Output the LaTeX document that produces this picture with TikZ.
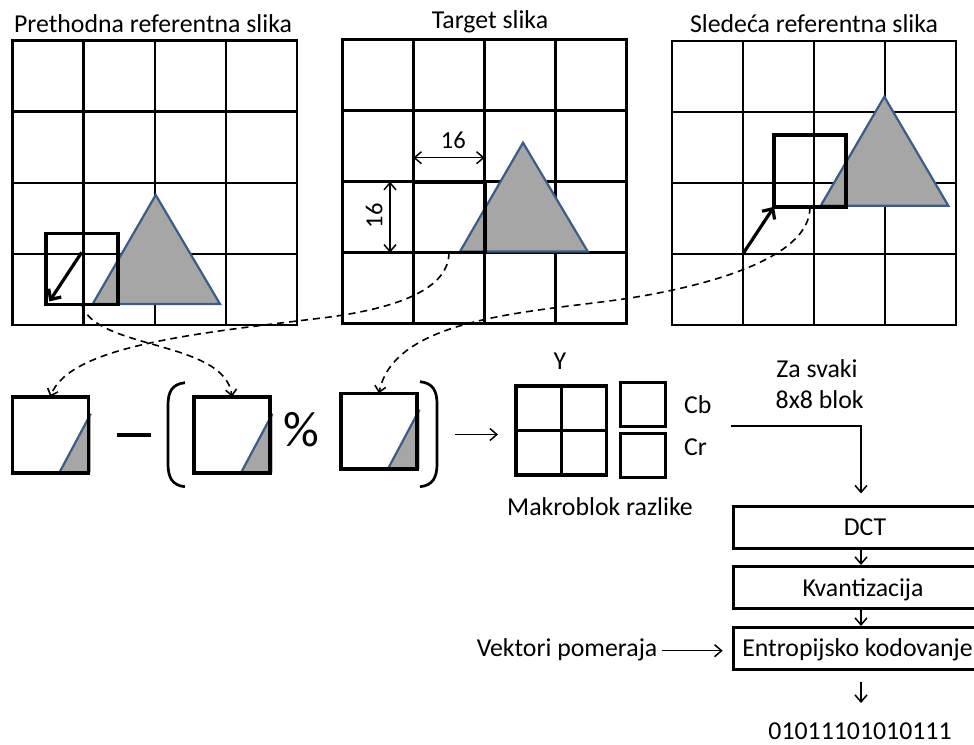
\documentclass[tikz,border=0pt]{standalone}
\usepackage{fontspec}
\setmainfont{Carlito}
\usetikzlibrary{arrows.meta,calc}
\definecolor{triblue}{HTML}{385D8A}
\definecolor{trigray}{HTML}{A6A6A6}
\tikzset{
  gridline/.style={line width=2.4pt, line cap=rect},
  blk/.style={draw, line width=3.6pt, inner sep=0pt, outer sep=0pt, rectangle},
  tri/.style={fill=trigray, draw=triblue, line width=2.2pt, line join=miter},
  dashconn/.style={line width=1.6pt, dash pattern=on 7pt off 5pt, -{Straight Barb[length=6pt,width=11pt]}},
  thinarrow/.style={line width=1.5pt, -{Straight Barb[length=7pt,width=12pt]}},
  dimarrow/.style={line width=1.5pt, {Straight Barb[length=7pt,width=12pt]}-{Straight Barb[length=7pt,width=12pt]}},
  mvarrow/.style={line width=3.2pt, -{Straight Barb[length=8pt,width=15pt]}},
  lbl/.style={font=\fontsize{25.8}{30}\selectfont, inner sep=0pt, anchor=base},
  procbox/.style={draw, line width=3pt, minimum width=270pt, minimum height=42.3pt, inner sep=0pt, anchor=north west},
}
\newcommand\mygrid[3]{%
  \foreach \i in {0,...,4}{%
    \draw[gridline] (#1+\i*#3, #2) -- (#1+\i*#3, #2+4*#3);
    \draw[gridline] (#1, #2+\i*#3) -- (#1+4*#3, #2+\i*#3);
  }}
\begin{document}
\begin{tikzpicture}[x=1pt, y=-1pt]
\useasboundingbox (0,0) rectangle (974,744);
\clip (0,0) rectangle (974,744);

% titles
\node[lbl] (t1) at (153,32) {Prethodna referentna slika};
\node[lbl] (t2) at (490,28.5) {Target slika};
\node[lbl] (t3) at (814,32) {Sledeća referentna slika};

% grids
\mygrid{12.5}{40.5}{71.1}
\mygrid{342.3}{39.3}{71}
\mygrid{671.7}{40.7}{71.1}

% triangles
\draw[tri] (155.7,195) -- (220,304) -- (92.7,304) -- cycle;
\draw[tri] (523,142.7) -- (587.7,251.5) -- (460,251.5) -- cycle;
\draw[tri] (884.3,96.7) -- (948.3,205.7) -- (820.7,205.7) -- cycle;

% macroblocks in the frames
\node[blk, minimum width=72pt, minimum height=71pt] (refA) at (81.7,268.8) {};
\node[blk, minimum width=71.4pt, minimum height=70.6pt] (tgt) at (449,217) {};
\node[blk, minimum width=71.7pt, minimum height=71.7pt] (refB) at (809.9,170.9) {};

% motion vectors
\coordinate (mvA) at (81.7,252.3);
\coordinate (mvAe) at (49.3,301.5);
\draw[mvarrow] (mvA) -- (mvAe);
\coordinate (mvB) at (743.3,253.3);
\draw[mvarrow] (mvB) -- (refB.south west);

% dimension arrows
\coordinate (dh1) at (413.3,157.7);
\coordinate (dh2) at (484.7,157.7);
\draw[dimarrow] (dh1) -- (dh2);
\coordinate (dv1) at (390,181.7);
\coordinate (dv2) at (390,252.7);
\draw[dimarrow] (dv1) -- (dv2);
\node[lbl, font=\fontsize{24.5}{28}\selectfont] (d16a) at (453.3,148.3) {16};
\node[font=\fontsize{24.5}{28}\selectfont, inner sep=0pt, rotate=90] (d16b) at (374.3,216) {16};

% triangle pieces in the formula blocks
\foreach \cx/\by in {12.3/472.7, 194/472.7, 341/468.7}{
  \fill[trigray] (\cx+47,\by) -- (\cx+78.5,\by-59) -- (\cx+78.5,\by) -- cycle;
  \draw[triblue, line width=2.2pt] (\cx+47,\by) -- (\cx+78.5,\by-59);
}
\node[blk, minimum width=76pt, minimum height=76pt] (fa) at (50.3,434.7) {};
\node[blk, minimum width=76pt, minimum height=76pt] (fb) at (232,434.7) {};
\node[blk, minimum width=75.7pt, minimum height=75.4pt] (fc) at (378.9,431) {};

% minus, parentheses, percent
\draw[line width=3.2pt] (116.7,435) -- (150.7,435);
\draw[line width=2.7pt] (185,382.7) .. controls (172,384) and (168,392) .. (168,405) -- (168,464) .. controls (168,477) and (172,485.5) .. (185,486.7);
\draw[line width=2.7pt] (420,381.7) .. controls (433,383) and (437,391) .. (437,404) -- (437,464) .. controls (437,477) and (433,485.5) .. (420,486.7);
\node[font=\fontsize{50}{54}\selectfont, inner sep=0pt, anchor=base] (pct) at (301.7,446) {\%};

% dashed connectors
\draw[dashconn] (tgt.south) .. controls (449,290) and (395,308) .. (330,317)
  .. controls (200,333) and (70,345) .. (fa.north);
\draw[dashconn] (refA.south) .. controls (95,350) and (225,340) .. (fb.north);
\draw[dashconn] (refB.south) .. controls (811,260) and (700,287) .. (630,298)
  .. controls (540,312) and (395,315) .. (fc.north);

% difference macroblock
\coordinate (rp) at (455,434.5);
\node[blk, line width=3.3pt, minimum width=90.7pt, minimum height=89pt] (yblk) at (561.35,430.5) {};
\draw[line width=3.3pt] (yblk.north) -- (yblk.south);
\draw[line width=3.3pt] (yblk.west) -- (yblk.east);
\draw[thinarrow, shorten >=18pt] (rp) -- (rp -| yblk.west);
\node[blk, line width=3pt, minimum width=45pt, minimum height=44.4pt] (cb) at (642.5,404.5) {};
\node[blk, line width=3pt, minimum width=45pt, minimum height=44.4pt] (cr) at (642.5,455.5) {};
\node[lbl] (ylab) at (560,369.3) {Y};
\node[lbl, anchor=base west] (cblab) at (684,413.3) {Cb};
\node[lbl, anchor=base west] (crlab) at (684,455) {Cr};
\node[lbl] (mak) at (600,515.7) {Makroblok razlike};

% processing chain
\node[lbl] (za1) at (817,377.7) {Za svaki};
\node[lbl] (za2) at (819.7,408.3) {8x8 blok};
\node[procbox] (dct) at (731.7,505) {};
\node[procbox] (kv) at (731.7,565) {};
\node[procbox] (ent) at (731.7,626) {};
\node[lbl] (dctl) at (865,535) {DCT};
\node[lbl] (kvl) at (863,596) {Kvantizacija};
\node[lbl] (entl) at (857.5,656.5) {Entropijsko kodovanje};
\coordinate (colx) at (861,0);
\coordinate (zs) at (730.7,426);
\draw[thinarrow, shorten >=11.5pt] (zs) -| (dct.north -| colx);
\draw[thinarrow] (dct.south -| colx) -- (kv.north -| colx);
\draw[thinarrow] (kv.south -| colx) -- (ent.north -| colx);

\node[lbl] (vek) at (567,656) {Vektori pomeraja};
\coordinate (vk) at (661.7,650.7);
\draw[thinarrow, shorten >=9pt] (vk) -- (vk -| ent.west);

\node[lbl] (bits) at (860,739) {01011101010111};
\draw[thinarrow, shorten <=10.5pt, shorten >=19pt] (ent.south -| colx) -- (bits.north -| colx);
\end{tikzpicture}
\end{document}
